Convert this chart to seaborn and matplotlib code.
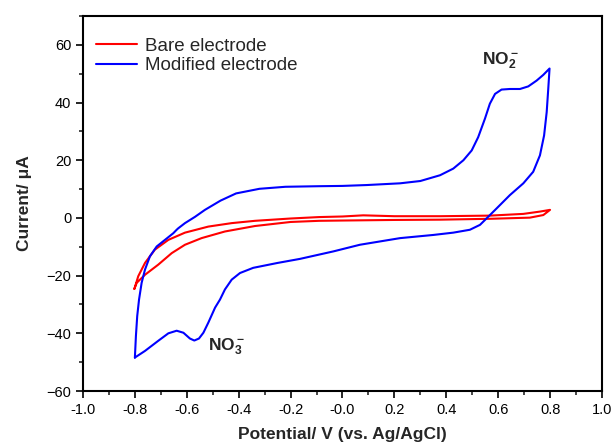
import numpy as np
import pandas as pd
import matplotlib
matplotlib.use("Agg")
import matplotlib.pyplot as plt
import seaborn as sns
from matplotlib.ticker import MultipleLocator

# bare electrode: anodic sweep then back
bare_fwd_E = [-0.802, -0.787, -0.761, -0.723, -0.671, -0.607, -0.517, -0.427, -0.337, -0.20, -0.09, 0.00, 0.08, 0.20, 0.376, 0.568, 0.697, 0.761, 0.80]
bare_fwd_I = [-24.6, -20.2, -15.6, -11.0, -7.6, -5.1, -3.0, -1.8, -1.0, -0.2, 0.3, 0.5, 0.9, 0.6, 0.6, 0.8, 1.4, 2.2, 2.8]
bare_rev_E = [0.774, 0.722, 0.568, 0.376, 0.20, 0.00, -0.09, -0.20, -0.337, -0.453, -0.543, -0.607, -0.658, -0.71, -0.761, -0.793, -0.802]
bare_rev_I = [1.0, 0.1, -0.3, -0.6, -0.7, -0.9, -1.0, -1.4, -2.8, -4.7, -7.0, -9.3, -12.2, -16.2, -19.7, -22.5, -24.6]

# modified electrode
mod_fwd_E = [-0.800, -0.796, -0.791, -0.784, -0.774, -0.761, -0.742, -0.716, -0.684, -0.652, -0.639, -0.633, -0.607, -0.568, -0.53, -0.47, -0.41, -0.32, -0.22, -0.09, 0.00, 0.093, 0.222, 0.30, 0.376, 0.427, 0.466, 0.498, 0.523, 0.549, 0.568, 0.588, 0.613, 0.645, 0.684, 0.716, 0.748, 0.774, 0.798]
mod_fwd_I = [-48.4, -40.9, -34.0, -28.3, -22.5, -17.9, -13.3, -9.9, -7.6, -5.3, -4.1, -3.6, -1.8, 0.4, 2.8, 6.0, 8.5, 10.1, 10.8, 11.0, 11.1, 11.4, 12.0, 12.8, 14.8, 17.1, 20.0, 23.4, 28.0, 34.4, 39.6, 43.0, 44.5, 44.7, 44.7, 45.6, 47.6, 49.6, 51.8]
mod_rev_E = [0.793, 0.787, 0.777, 0.761, 0.735, 0.697, 0.645, 0.594, 0.556, 0.53, 0.491, 0.427, 0.35, 0.222, 0.067, -0.035, -0.164, -0.25, -0.344, -0.395, -0.427, -0.453, -0.472, -0.491, -0.517, -0.536, -0.553, -0.571, -0.588, -0.613, -0.639, -0.671, -0.71, -0.761, -0.800]
mod_rev_I = [44.7, 36.7, 28.6, 21.7, 16.0, 12.0, 7.9, 3.3, -0.1, -2.4, -4.1, -5.1, -5.9, -7.0, -9.3, -11.6, -14.2, -15.6, -17.3, -19.1, -21.4, -24.8, -28.3, -31.1, -36.3, -39.8, -41.8, -42.5, -41.8, -39.8, -39.1, -40.0, -42.6, -46.1, -48.4]

bare = pd.DataFrame({"E": bare_fwd_E + bare_rev_E, "I": bare_fwd_I + bare_rev_I})
bare["electrode"] = "Bare electrode"
mod = pd.DataFrame({"E": mod_fwd_E + mod_rev_E, "I": mod_fwd_I + mod_rev_I})
mod["electrode"] = "Modified electrode"
df = pd.concat([bare, mod], ignore_index=True)

sns.set_style("ticks")
plt.rcParams["font.family"] = ["Liberation Sans", "DejaVu Sans"]
plt.rcParams["mathtext.fontset"] = "custom"
plt.rcParams["mathtext.rm"] = "Liberation Sans"
plt.rcParams["mathtext.bf"] = "Liberation Sans:bold"

fig = plt.figure(figsize=(6.12, 4.46), dpi=100)
ax = fig.add_axes([0.1356, 0.1233, 0.848, 0.8408])

sns.lineplot(data=df, x="E", y="I", hue="electrode", sort=False, estimator=None,
             palette={"Bare electrode": "#ff0000", "Modified electrode": "#0000ff"},
             linewidth=1.5, ax=ax)

ax.set_xlim(-1.0, 1.0)
ax.set_ylim(-60, 70)
ax.xaxis.set_minor_locator(MultipleLocator(0.1))
ax.yaxis.set_minor_locator(MultipleLocator(10))
ax.set_xticks(np.arange(-1.0, 1.01, 0.2))
ax.set_xticklabels([f"{v:.1f}" for v in np.arange(-1.0, 1.01, 0.2)])
ax.set_yticks([-60, -40, -20, 0, 20, 40, 60])
ax.tick_params(which="major", direction="out", length=5, width=1.2, labelsize=10.5, colors="black")
ax.tick_params(which="minor", direction="out", length=3, width=1.2)
for s in ax.spines.values():
    s.set_linewidth(1.5)
    s.set_color("black")

ax.set_xlabel("Potential/ V (vs. Ag/AgCl)", fontsize=12.5, fontweight="bold", labelpad=7)
ax.set_ylabel("Current/ μA", fontsize=12.5, fontweight="bold", labelpad=10)

ax.legend(loc="upper left", frameon=False, fontsize=13.5, handlelength=2.2,
          borderaxespad=0.3, handletextpad=0.4, labelspacing=0.15,
          bbox_to_anchor=(0.0, 0.978))

ax.text(0.61, 54.5, r"$\mathbf{NO_2^-}$", fontsize=12.5, ha="center", va="center")
ax.text(-0.445, -44.5, r"$\mathbf{NO_3^-}$", fontsize=12.5, ha="center", va="center")

fig.savefig("out.png", dpi=100)
